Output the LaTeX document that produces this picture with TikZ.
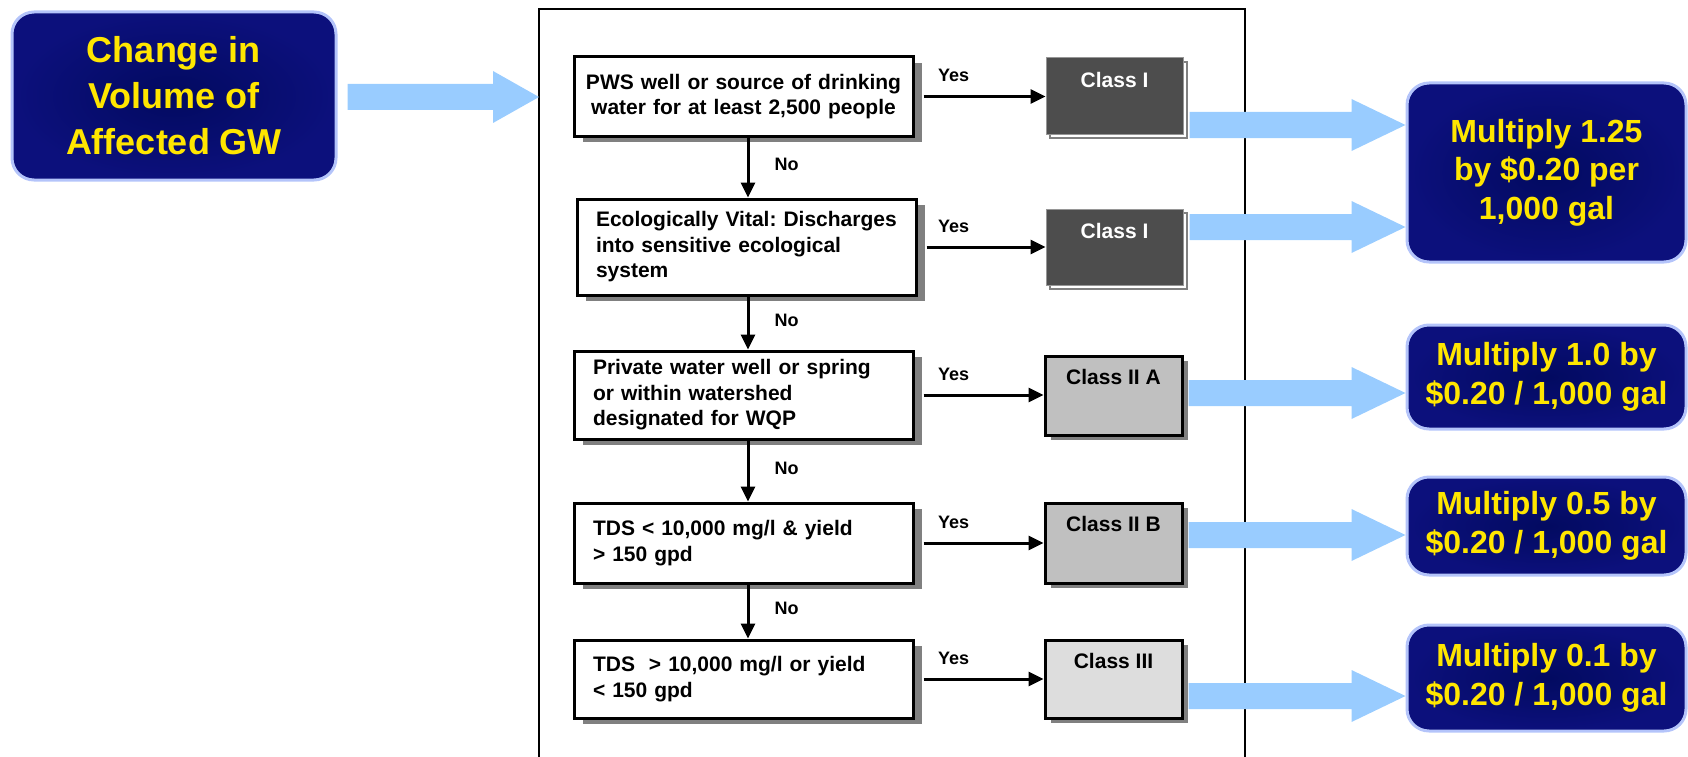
\documentclass[tikz,border=0pt]{standalone}
\usepackage{fontspec}
\setmainfont{Liberation Sans}
\usetikzlibrary{arrows.meta,calc,shadows}
\frenchspacing
\definecolor{navyin}{RGB}{2,10,96}
\definecolor{navyout}{RGB}{12,16,124}
\definecolor{navyedge}{RGB}{180,196,250}
\definecolor{gold}{RGB}{255,230,0}
\definecolor{skyarrow}{RGB}{153,204,255}
\definecolor{shadowgray}{RGB}{128,128,128}
\definecolor{darkclass}{RGB}{77,77,77}
\definecolor{darkedge}{RGB}{150,150,150}
\definecolor{midclass}{RGB}{192,192,192}
\definecolor{lightclass}{RGB}{221,221,221}
\newcommand\BlueArr[3]{\fill[skyarrow] ($(#1)+(0,-13)$) -- ($(#2)+(-#3,-13)$) -- ($(#2)+(-#3,-26)$) -- (#2) -- ($(#2)+(-#3,26)$) -- ($(#2)+(-#3,13)$) -- ($(#1)+(0,13)$) -- cycle;}
\begin{document}
\begin{tikzpicture}[x=1pt,y=-1pt,
  navybox/.style={rounded corners=22pt, draw=navyedge, line width=3pt, shade, shading=radial,
    inner color=navyin, outer color=navyout, text=gold,
    font=\bfseries\fontsize{32}{38.5}\selectfont, align=center, inner sep=0pt, minimum width=279pt},
  dbox/.style={draw, line width=3pt, fill=white, minimum width=339pt, text width=301pt,
    inner xsep=19pt, inner ysep=0pt, align=left, font=\bfseries\fontsize{21}{25.5}\selectfont,
    drop shadow={shadow xshift=9pt, shadow yshift=-6pt, opacity=1, fill=shadowgray}},
  cbox/.style={minimum width=137pt, inner sep=0pt},
  cdark/.style={cbox, fill=darkclass, draw=darkedge, line width=1pt,
    drop shadow={shadow xshift=4pt, shadow yshift=-4pt, opacity=1, fill=white, draw=shadowgray, line width=1.2pt}},
  clight/.style={cbox, draw=black, line width=3pt,
    drop shadow={shadow xshift=6pt, shadow yshift=-5pt, opacity=1, fill=shadowgray}},
  clabel/.style={anchor=base, yshift=-30pt, inner sep=0pt, font=\bfseries\fontsize{21}{25}\selectfont},
  blk/.style={line width=3pt, -{Triangle[length=15pt,width=14pt]}},
  lbl/.style={inner sep=0pt, font=\bfseries\fontsize{18}{20}\selectfont}
]
\useasboundingbox (0,0) rectangle (1688,757);

% source box
\node[navybox, font=\bfseries\fontsize{36}{46}\selectfont, minimum width=324pt, minimum height=168pt] (src) at (174,96) {Change in\\Volume of\\Affected GW};

% frame (bottom edge lies below the picture)
\draw[line width=2.5pt] (539,757) |- (1245,9) -- (1245,757);
\coordinate (frameL) at (539,97);

% decision boxes
\node[dbox, text width=320pt, inner xsep=9.5pt, align=center, minimum height=79pt] (d1) at (743.5,96.5) {PWS well or source of drinking\\water for at least 2,500 people};
\node[dbox, minimum height=96pt] (d2) at (746.5,247) {\mbox{Ecologically Vital: Discharges}\\into sensitive ecological\\system};
\node[dbox, minimum height=88pt] (d3) at (743.5,395) {\mbox{Private water well or spring}\\or within watershed\\designated for WQP};
\node[dbox, minimum height=80pt] (d4) at (743.5,543) {\mbox{TDS < 10,000 mg/l \& yield}\\> 150 gpd};
\node[dbox, minimum height=78pt] (d5) at (743.5,679) {\mbox{TDS~~> 10,000 mg/l or yield}\\< 150 gpd};

% class boxes
\node[cdark, minimum height=76pt, label={[clabel, text=white]north:Class I}] (c1) at (1114.5,96) {};
\node[cdark, minimum height=76pt, label={[clabel, text=white]north:Class I}] (c2) at (1114.5,247) {};
\node[clight, fill=midclass, minimum height=79pt, label={[clabel]north:Class II A}] (c3) at (1113.5,395.5) {};
\node[clight, fill=midclass, minimum height=80pt, label={[clabel]north:Class II B}] (c4) at (1113.5,543) {};
\node[clight, fill=lightclass, minimum height=78pt, label={[clabel]north:Class III}] (c5) at (1113.5,679) {};

% outcome boxes
\node[navybox, minimum height=179pt] (o12) at (1546.5,172.5) {Multiply 1.25\\by \$0.20 per\\1,000 gal};
\node[navybox, minimum height=104pt] (o3) at (1546.5,377) {Multiply 1.0 by\\\$0.20 / 1,000 gal};
\node[navybox, minimum height=98pt] (o4) at (1546.5,526) {Multiply 0.5 by\\\$0.20 / 1,000 gal};
\node[navybox, minimum height=106pt] (o5) at (1546.5,678) {Multiply 0.1 by\\\$0.20 / 1,000 gal};

% Yes arrows
\draw[blk] ([xshift=9pt]d1.east) -- node[lbl, pos=0, anchor=base west, xshift=13pt, yshift=15pt]{Yes} (d1.east -| c1.west);
\draw[blk] ([xshift=9pt]d2.east) -- node[lbl, pos=0, anchor=base west, xshift=10pt, yshift=15pt]{Yes} (d2.east -| c2.west);
\draw[blk] ([xshift=9pt]d3.east) -- node[lbl, pos=0, anchor=base west, xshift=13pt, yshift=15pt]{Yes} (d3.east -| c3.west);
\draw[blk] ([xshift=9pt]d4.east) -- node[lbl, pos=0, anchor=base west, xshift=13pt, yshift=15pt]{Yes} (d4.east -| c4.west);
\draw[blk] ([xshift=9pt]d5.east) -- node[lbl, pos=0, anchor=base west, xshift=13pt, yshift=15pt]{Yes} (d5.east -| c5.west);

% No arrows
\draw[blk] (d1.south -| 748,0) -- node[lbl, anchor=base west, xshift=25pt, yshift=-3pt]{No} (d2.north -| 748,0);
\draw[blk] (d2.south -| 748,0) -- node[lbl, anchor=base west, xshift=25pt, yshift=-3pt]{No} (d3.north -| 748,0);
\draw[blk] (d3.south -| 748,0) -- node[lbl, anchor=base west, xshift=25pt, yshift=-3pt]{No} (d4.north -| 748,0);
\draw[blk] (d4.south -| 748,0) -- node[lbl, anchor=base west, xshift=25pt, yshift=-3pt]{No} (d5.north -| 748,0);

% broad blue arrows
\coordinate (b0s) at ($(src.east |- 0,97)+(10,0)$);
\BlueArr{b0s}{frameL}{46}
\coordinate (b1s) at ($(c1.east |- 0,125)+(6,0)$);
\coordinate (b1e) at (o12.west |- 0,125);
\BlueArr{b1s}{b1e}{54}
\coordinate (b2s) at ($(c2.east |- 0,227)+(6,0)$);
\coordinate (b2e) at (o12.west |- 0,227);
\BlueArr{b2s}{b2e}{54}
\coordinate (b3s) at ($(c3.east |- 0,393)+(5,0)$);
\coordinate (b3e) at (o3.west |- 0,393);
\BlueArr{b3s}{b3e}{54}
\coordinate (b4s) at ($(c4.east |- 0,535)+(5,0)$);
\coordinate (b4e) at (o4.west |- 0,535);
\BlueArr{b4s}{b4e}{54}
\coordinate (b5s) at ($(c5.east |- 0,696)+(5,0)$);
\coordinate (b5e) at (o5.west |- 0,696);
\BlueArr{b5s}{b5e}{54}
\end{tikzpicture}
\end{document}
